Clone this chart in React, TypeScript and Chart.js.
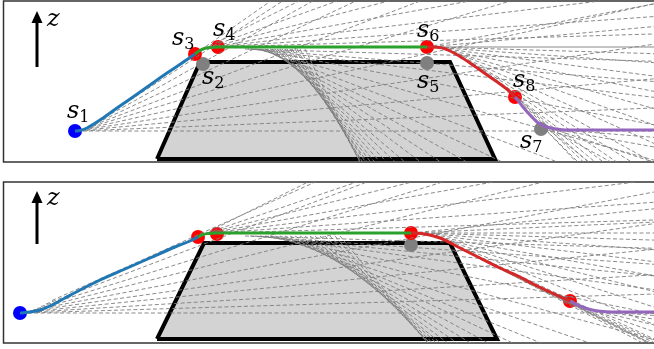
import React, { useEffect, useRef } from 'react';
import { Chart, registerables } from 'chart.js';
Chart.register(...registerables);

const W = 654;
const H = 349;

// panel frames: [left, top, right, bottom]
const PANEL1 = [3.5, 1, 660, 162];
const PANEL2 = [3.5, 182, 660, 343];

// ---------- panel 1 ----------
const P1_TRAP = [[157, 159], [200, 62], [450, 62], [495, 159]];
const P1_BLUE = [[75, 131], [80, 130.5], [87, 128], [93, 124.5], [100, 120], [117, 108], [133, 97], [150, 85], [167, 73], [182, 63], [195, 54]];
const P1_GREEN = [[195, 54], [199, 51], [203, 49], [208, 47.8], [214, 47.2], [222, 47], [427, 47]];
const P1_RED = [[427, 47], [440, 47.6], [450, 51], [460, 56.5], [470, 63], [480, 70], [490, 77], [500, 84], [508, 90], [515, 97]];
const P1_PURPLE = [[515, 97], [523, 107], [530, 115], [537, 122], [545, 126.5], [553, 128.5], [562, 129.7], [580, 130], [654, 130]];
const P1_BLUE_DOTS = [[75, 131]];
const P1_RED_DOTS = [[195, 54], [218, 47], [427, 47], [515, 97]];
const P1_GRAY_DOTS = [[203, 64], [427, 63], [541, 129]];
// rays: [x0, y0, slope]
const P1_RAYS_A = [[76, 131, 0], [78, 131, -0.04], [80, 130.5, -0.09], [82, 130, -0.15], [84, 129.2, -0.22], [86, 128.3, -0.3], [88, 127.2, -0.38], [91, 125.5, -0.47], [94, 123.5, -0.56], [98, 121, -0.65]];
const P1_RAYS_B = [[195, 54, -0.7], [198, 51.5, -0.5], [201, 50, -0.36], [204, 49, -0.26], [207, 48.3, -0.18], [211, 47.7, -0.12], [215, 47.3, -0.07], [219, 47, -0.03]];
const P1_RAYS_C = [[245, 49, 0.03], [248, 49, 0.08], [251, 49, 0.12], [255, 49, 0.19], [257, 49, 0.28], [260, 49, 0.38], [262, 49, 0.47], [265, 49, 0.56], [267, 49, 0.65], [270, 49, 0.75], [272, 49, 0.85], [275, 49, 0.94], [277, 49, 1.03], [280, 49, 1.13], [282, 49, 1.22], [285, 49, 1.32], [287, 49, 1.41], [290, 49, 1.5], [292, 49, 1.6], [295, 49, 1.69], [297, 49, 1.78], [300, 49, 1.88], [305, 49, 2.07]];
const P1_RAYS_D = [[432, 47, 0.03], [437, 47.5, 0.07], [442, 48.5, 0.13], [447, 50, 0.2], [452, 52, 0.28], [457, 54, 0.36], [462, 57, 0.45], [467, 60, 0.55], [472, 63, 0.62], [480, 69, 0.68], [490, 77, 0.75], [500, 84, 0.82], [508, 90, 0.9], [515, 97, 0.95], [522, 105, 1.05], [528, 112, 1.0], [534, 118, 0.8], [540, 123, 0.55], [547, 127, 0.33], [554, 129, 0.18], [562, 130, 0.08], [427, 47, -0.09], [427, 47, -0.19]];
const P1_LABELS = [[67, 118, '1'], [172, 45, '3'], [213, 36, '4'], [202, 84, '2'], [417, 37, '6'], [417, 88, '5'], [513, 87, '8'], [520, 148, '7']];
const P1_HLINE = [[440, 47], [654, 47]];

// ---------- panel 2 ----------
const P2_TRAP = [[157, 339], [204, 243], [450, 243], [497, 339]];
const P2_BLUE = [[20, 313], [30, 312], [40, 310], [50, 306], [65, 298], [80, 290], [100, 280], [125, 269], [150, 258], [175, 247], [190, 241], [198, 237]];
const P2_GREEN = [[198, 237], [203, 234.5], [209, 233.5], [216, 233], [225, 233], [411, 233]];
const P2_RED = [[411, 233], [425, 234], [440, 238], [460, 248], [480, 258], [500, 268], [520, 277], [533, 284], [550, 292], [570, 301]];
const P2_PURPLE = [[570, 301], [580, 306], [590, 309.5], [600, 311.3], [612, 312], [654, 312]];
const P2_BLUE_DOTS = [[20, 313]];
const P2_RED_DOTS = [[198, 237], [217, 234], [411, 233], [570, 301]];
const P2_GRAY_DOTS = [[411, 245]];
const P2_RAYS_A = [[21, 313, 0], [23, 313, -0.03], [25, 312.5, -0.06], [27, 312, -0.1], [30, 311, -0.14], [33, 310, -0.19], [37, 308.5, -0.25], [41, 306.5, -0.31], [46, 304, -0.38], [52, 300.5, -0.45]];
const P2_RAYS_B = [[198, 237, -0.5], [201, 235, -0.34], [204, 234, -0.25], [207, 233.5, -0.18], [211, 233, -0.12], [215, 233, -0.07], [220, 233, -0.03]];
const P2_RAYS_C = [[245, 236, 0.03], [250, 236, 0.07], [255, 236, 0.1], [260, 236, 0.136], [265, 236, 0.2], [270, 236, 0.27], [275, 236, 0.34], [280, 236, 0.41], [285, 236, 0.47], [290, 236, 0.54], [295, 236, 0.61], [300, 236, 0.68], [305, 236, 0.75], [310, 236, 0.82], [315, 236, 0.88], [320, 236, 0.95], [325, 236, 1.02], [330, 236, 1.09], [335, 236, 1.15], [340, 236, 1.22]];
const P2_RAYS_D = [[412, 233, 0], [418, 233, 0.03], [423, 233.5, 0.07], [428, 234.5, 0.12], [433, 236, 0.18], [438, 237.5, 0.25], [443, 239.5, 0.32], [448, 242, 0.4], [453, 244.5, 0.47], [460, 248, 0.52], [480, 259, 0.5], [500, 268, 0.5], [520, 278, 0.5], [540, 289, 0.47], [560, 298, 0.45], [575, 304, 0.35], [582, 307, 0.25], [590, 309.5, 0.15], [598, 311, 0.08], [606, 312, 0.03], [412, 233, -0.045], [412, 233, -0.1]];

// z arrows: [x, tipY, baseY, labelX, labelY]
const ARROWS = [[37, 11, 67, 47, 26], [37, 191, 244, 47, 205]];

const SERIF = "'DejaVu Serif'";

const toPts = (a: number[][]) => a.map(([x, y]) => ({ x, y }));

function rayEnd(x0: number, y0: number, s: number, box: number[]) {
  let x1 = W;
  let y1 = y0 + s * (W - x0);
  if (y1 < box[1]) { y1 = box[1]; x1 = x0 + (box[1] - y0) / s; }
  if (y1 > box[3]) { y1 = box[3]; x1 = x0 + (box[3] - y0) / s; }
  return { x: x1, y: y1 };
}

const RAY_COLOR = 'rgba(125,125,125,0.9)';

function rayDatasets(rays: number[][], box: number[]) {
  return rays.map(([x0, y0, s]) => ({
    data: [{ x: x0, y: y0 }, rayEnd(x0, y0, s, box)],
    showLine: true,
    borderColor: RAY_COLOR,
    borderWidth: 1,
    borderDash: [4, 2.5],
    pointRadius: 0,
    fill: false,
  }));
}

function curve(pts: number[][], color: string) {
  return {
    data: toPts(pts),
    showLine: true,
    borderColor: color,
    borderWidth: 3,
    pointRadius: 0,
    cubicInterpolationMode: 'monotone',
    fill: false,
  };
}

function dots(pts: number[][], color: string) {
  return {
    data: toPts(pts),
    showLine: false,
    pointRadius: 7,
    pointBackgroundColor: color,
    pointBorderWidth: 0,
    backgroundColor: color,
    borderColor: color,
  };
}

function trapFill(pts: number[][]) {
  return {
    data: toPts(pts),
    showLine: true,
    borderColor: 'rgba(0,0,0,0)',
    borderWidth: 0,
    backgroundColor: '#d3d3d3',
    pointRadius: 0,
    tension: 0,
    fill: { value: pts[0][1] },
  };
}

function trapOutline(pts: number[][]) {
  return {
    data: toPts([...pts, pts[0]]),
    showLine: true,
    borderColor: '#000',
    borderWidth: 4,
    borderJoinStyle: 'miter',
    pointRadius: 0,
    tension: 0,
    fill: false,
  };
}

function frame(box: number[]) {
  const [l, t, r, b] = box;
  return {
    data: [{ x: r, y: t }, { x: l, y: t }, { x: l, y: b }, { x: r, y: b }],
    showLine: true,
    borderColor: '#333',
    borderWidth: 1.5,
    pointRadius: 0,
    tension: 0,
    fill: false,
  };
}

const overlayPlugin = {
  id: 'overlay',
  afterDatasetsDraw(chart: any) {
    const ctx = chart.ctx;
    const xs = chart.scales.x;
    const ys = chart.scales.y;
    ctx.save();
    ctx.fillStyle = '#000';
    ctx.strokeStyle = '#000';
    ctx.textBaseline = 'alphabetic';
    P1_LABELS.forEach(([x, y, sub]: any) => {
      const px = xs.getPixelForValue(x);
      const py = ys.getPixelForValue(y);
      ctx.font = `italic 24px ${SERIF}`;
      ctx.fillText('s', px, py);
      const w = ctx.measureText('s').width;
      ctx.font = `16px ${SERIF}`;
      ctx.fillText(String(sub), px + w, py + 4);
    });
    ARROWS.forEach(([x, tip, base, lx, ly]) => {
      const px = xs.getPixelForValue(x);
      const pt = ys.getPixelForValue(tip);
      const pb = ys.getPixelForValue(base);
      ctx.lineWidth = 3;
      ctx.beginPath();
      ctx.moveTo(px, pb);
      ctx.lineTo(px, pt + 10);
      ctx.stroke();
      ctx.beginPath();
      ctx.moveTo(px - 5.5, pt + 12);
      ctx.lineTo(px, pt);
      ctx.lineTo(px + 5.5, pt + 12);
      ctx.closePath();
      ctx.fill();
      ctx.font = `italic 24px ${SERIF}`;
      ctx.fillText('z', xs.getPixelForValue(lx), ys.getPixelForValue(ly));
    });
    ctx.restore();
  },
};

export default function App() {
  const ref = useRef<HTMLCanvasElement | null>(null);
  useEffect(() => {
    document.body.style.margin = '0';
    const canvas = ref.current;
    if (!canvas) return;
    const datasets: any[] = [
      curve(P1_BLUE, '#1f77b4'),
      curve(P1_GREEN, '#2ca02c'),
      curve(P1_RED, '#d62728'),
      curve(P1_PURPLE, '#9467bd'),
      curve(P2_BLUE, '#1f77b4'),
      curve(P2_GREEN, '#2ca02c'),
      curve(P2_RED, '#d62728'),
      curve(P2_PURPLE, '#9467bd'),
      ...rayDatasets(P1_RAYS_A, PANEL1),
      ...rayDatasets(P1_RAYS_B, PANEL1),
      ...rayDatasets(P1_RAYS_C, PANEL1),
      ...rayDatasets(P1_RAYS_D, PANEL1),
      ...rayDatasets(P2_RAYS_A, PANEL2),
      ...rayDatasets(P2_RAYS_B, PANEL2),
      ...rayDatasets(P2_RAYS_C, PANEL2),
      ...rayDatasets(P2_RAYS_D, PANEL2),
      {
        data: toPts(P1_HLINE), showLine: true, borderColor: RAY_COLOR, borderWidth: 1, pointRadius: 0, fill: false,
      },
      dots(P1_BLUE_DOTS, '#0000ff'),
      dots(P1_RED_DOTS, '#ff0000'),
      dots(P1_GRAY_DOTS, '#808080'),
      dots(P2_BLUE_DOTS, '#0000ff'),
      dots(P2_RED_DOTS, '#ff0000'),
      dots(P2_GRAY_DOTS, '#808080'),
      trapOutline(P1_TRAP),
      trapOutline(P2_TRAP),
      trapFill(P1_TRAP),
      trapFill(P2_TRAP),
      frame(PANEL1),
      frame(PANEL2),
    ];
    const chart = new Chart(canvas, {
      type: 'scatter',
      data: { datasets },
      options: {
        animation: false,
        responsive: false,
        events: [],
        layout: { padding: 0, autoPadding: false },
        plugins: { legend: { display: false }, tooltip: { enabled: false } },
        scales: {
          x: { type: 'linear', min: 0, max: W, display: false },
          y: { type: 'linear', min: 0, max: H, reverse: true, display: false },
        },
      },
      plugins: [overlayPlugin],
    } as any);
    let alive = true;
    const fonts: any = (document as any).fonts;
    if (fonts && fonts.load) {
      Promise.all([
        fonts.load(`italic 24px ${SERIF}`),
        fonts.load(`16px ${SERIF}`),
      ]).then(() => { if (alive) chart.draw(); }).catch(() => {});
    }
    return () => { alive = false; chart.destroy(); };
  }, []);
  return (
    <div style={{ width: W, height: H }}>
      <canvas ref={ref} width={W} height={H} style={{ display: 'block', width: W, height: H }} />
    </div>
  );
}
